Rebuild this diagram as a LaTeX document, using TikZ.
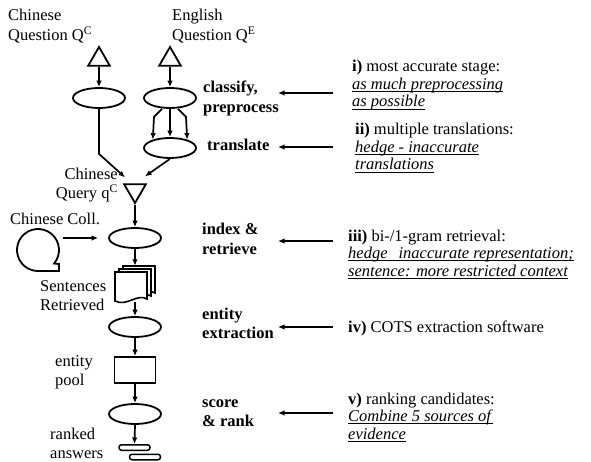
\documentclass[tikz,border=0pt]{standalone}
\usepackage{fontspec}
\setmainfont{Liberation Serif}
\usetikzlibrary{arrows.meta,shapes.geometric,calc}
\newsavebox\uitbox
\newcommand\uit[1]{\sbox\uitbox{\textit{#1}}\rlap{\rule[-2.6pt]{\wd\uitbox}{0.8pt}}\usebox\uitbox}
\tikzset{
  docpage/.pic={\draw[line width=1.6pt, fill=white] (-16,-15) -- (16,-15) -- (16,12) .. controls (6,6) and (-4,20) .. (-16,14) -- cycle;}
}
\begin{document}
\begin{tikzpicture}[x=1pt,y=-1pt,
  shp/.style={draw, line width=1.8pt},
  arr/.style={line width=1.7pt, -{Latex[length=6.5pt,width=5.5pt]}},
  oval/.style={shp, ellipse, minimum width=52pt, minimum height=20pt, inner sep=0},
  tri/.style={shp, regular polygon, regular polygon sides=3, minimum size=25pt, inner sep=0},
  lbl/.style={font=\fontsize{16.5}{19.5}\selectfont, inner sep=0, align=left, anchor=base west},
  stage/.style={font=\bfseries\fontsize{16.5}{19.5}\selectfont, inner sep=0, align=left, anchor=base west},
  note/.style={font=\fontsize{16.5}{17.5}\selectfont, inner sep=0, align=left, anchor=base west},
  pill/.style={shp, line width=1.5pt, rounded corners=2.5pt, minimum width=31pt, minimum height=5.5pt, inner sep=0},
]
\useasboundingbox (0,0) rectangle (591,462);

% shapes
\node[tri] (tqc) at (99,59.5) {};
\node[tri] (tqe) at (170,59.5) {};
\node[oval] (e1) at (99,98) {};
\node[oval] (e2) at (170,98) {};
\node[oval] (e3) at (170,148) {};
\node[tri, shape border rotate=180] (tq) at (135,190.5) {};
\node[oval] (e4) at (135,238) {};
\node[minimum width=40pt, minimum height=36pt, inner sep=0] (docs) at (135,284) {};
\pic at (139,281) {docpage};
\pic at (135,284) {docpage};
\pic at (131,287) {docpage};
\node[oval] (e5) at (135,327) {};
\node[shp, minimum width=41pt, minimum height=26pt, inner sep=0] (pool) at (135,370) {};
\node[oval] (e6) at (135,414) {};
\node[pill] (a1) at (134.5,447.5) {};
\node[pill] (a2) at (145,457) {};
\node[circle, minimum size=42pt, inner sep=0] (coll) at (38,250) {};
\draw[shp] ([shift={(40:21)}]coll.center) arc[start angle=40, end angle=-270, radius=21] -- ++(21,0) -- ++(0,-7) -- cycle;

% connectors
\draw[arr] (tqc.south) -- (e1.north);
\draw[arr] (tqe.south) -- (e2.north);
\draw[arr] (e2.south) -- (e3.north);
\draw[arr] ([xshift=-8pt]e2.south) -- ++(-8,8) -- (e3.154);
\draw[arr] ([xshift=8pt]e2.south) -- ++(8,8) -- (e3.26);
\draw[arr] (e1.south) -- ++(0,45) -- ([xshift=-10pt,yshift=6pt]tq.north);
\draw[arr] (e3.south) -- ([xshift=10pt,yshift=7pt]tq.north);
\draw[arr] (tq.south) -- (e4.north);
\draw[arr] ([xshift=4pt]coll.east |- e4.west) -- ([xshift=-10pt]e4.west);
\draw[arr] (e4.south) -- (docs.north);
\draw[arr] (docs.south) -- (e5.north);
\draw[arr] (e5.south) -- (pool.north);
\draw[arr] (pool.south) -- (e6.north);
\draw[arr] (e6.south) -- (a1.north);

% left labels (base = last line)
\node[lbl] (lQC) at (8,40.5) {Chinese\\Question Q\textsuperscript{C}};
\node[lbl] (lQE) at (172,40.5) {English\\Question Q\textsuperscript{E}};
\node[lbl, align=right, anchor=base east] (lq) at (118,199) {Chinese\\Query q\textsuperscript{C}};
\node[lbl] (lColl) at (10,225) {Chinese Coll.};
\node[lbl] (lSR) at (40,310.5) {Sentences\\Retrieved};
\node[lbl] (lPool) at (55,385.5) {entity\\pool};
\node[lbl] (lRa) at (50,458.5) {ranked\\answers};

% stage labels
\node[stage] (sCl) at (203,112.5) {classify,\\preprocess};
\node[stage] (sTr) at (207,151) {translate};
\node[stage] (sIx) at (202,254.5) {index \&\\retrieve};
\node[stage] (sEx) at (202,338.5) {entity\\extraction};
\node[stage] (sSc) at (202,426.5) {score\\\& rank};

% notes
\node[note] (nI) at (352,107) {\textbf{i)} most accurate stage:\\ \uit{as much preprocessing}\\ \uit{as possible}};
\node[note] (nII) at (355,170) {\textbf{ii)} multiple translations:\\ \uit{hedge - inaccurate}\\ \uit{translations}};
\node[note] (nIII) at (348,276) {\textbf{iii)} bi-/1-gram retrieval:\\ \uit{hedge\hspace{11pt}inaccurate representation;}\\ \uit{sentence: more restricted context}};
\node[note] (nIV) at (348,332) {\textbf{iv)} COTS extraction software};
\node[note] (nV) at (348,439) {\textbf{v)} ranking candidates:\\ \uit{Combine 5 sources of}\\ \uit{evidence}};

% note arrows
\coordinate (hI) at (333,93);
\coordinate (hII) at (333,147);
\coordinate (hIII) at (333,241);
\coordinate (hIV) at (333,327);
\coordinate (hV) at (333,413);
\draw[arr] (hI) -- ++(-55,0);
\draw[arr] (hII) -- ++(-55,0);
\draw[arr] (hIII) -- ++(-55,0);
\draw[arr] (hIV) -- ++(-55,0);
\draw[arr] (hV) -- ++(-55,0);
\end{tikzpicture}
\end{document}
